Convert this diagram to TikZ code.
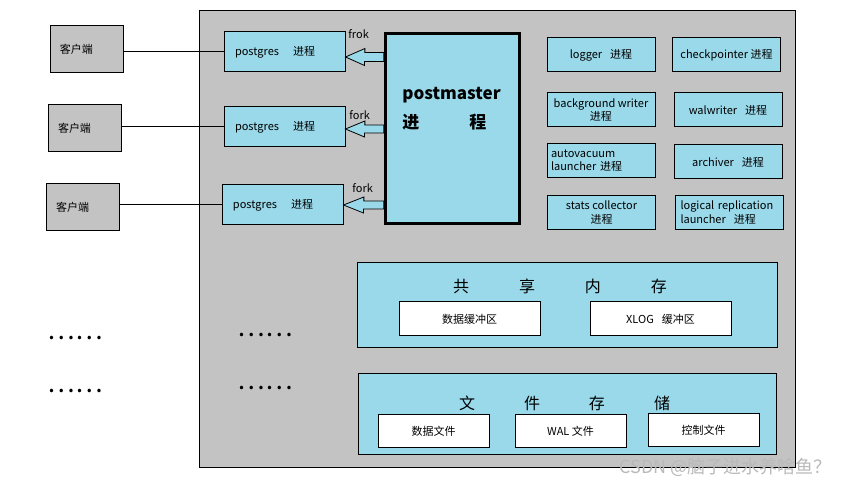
\documentclass[tikz,border=0pt]{standalone}
\usepackage{xcolor}
\usepackage{fontspec}
\setmainfont{Noto Sans CJK SC}
\usepackage{tikz}
\usetikzlibrary{positioning, calc}

\definecolor{procblue}{RGB}{153,217,234}
\definecolor{panelgray}{RGB}{195,195,195}

\begin{document}
\begin{tikzpicture}[
    x=0.5pt, y=-0.5pt,
    box/.style={draw, rectangle, line width=0.5pt, fill=procblue, minimum width=54pt, minimum height=17pt, align=center, inner sep=1pt, font=\fontsize{5.5}{6.6}\selectfont},
    client/.style={box, fill=panelgray, minimum width=36.5pt, minimum height=23.5pt, inner xsep=5pt, text width=26.5pt, align=left},
    pgbox/.style={box, minimum width=60.5pt, minimum height=20pt, inner xsep=5.5pt, text width=49.5pt, align=left},
    area/.style={box, inner sep=0pt},
    buffer/.style={box, fill=white},
    lbl/.style={inner sep=0pt, font=\fontsize{5.5}{6.6}\selectfont},
    title/.style={inner sep=0pt, font=\fontsize{8}{9}\selectfont},
    dots/.style={inner sep=0pt, font=\fontsize{13}{13}\selectfont},
    fatarrow/.style={draw, fill=procblue, line width=0.4pt},
    line/.style={draw, line width=0.5pt},
]

% Canvas
\fill[white] (0,0) rectangle (843,486);
\useasboundingbox (0,0) rectangle (843,486);

% Server
\node[area, fill=panelgray, minimum width=298pt, minimum height=228.5pt] (server) at (497,239.5) {};

% Clients
\node[client] (c1) at (86.5,49.5) {客户端};
\node[client] (c2) at (84.5,128.5) {客户端};
\node[client] (c3) at (82.5,207.5) {客户端};

% Backends
\node[pgbox] (pg1) at (284.5,52) {postgres\hspace{7pt}进程};
\node[pgbox] (pg2) at (284.5,127) {postgres\hspace{7pt}进程};
\node[pgbox] (pg3) at (282.5,205) {postgres\hspace{7pt}进程};

% Postmaster
\node[box, line width=1.65pt, minimum width=67pt, minimum height=95pt] (pm) at (452.5,128.5) {};
\node[anchor=west, inner sep=0pt, align=left, font=\fontsize{8.5}{14.5}\selectfont\bfseries] (pmtext) at (402,109) {postmaster\\进\hspace{25pt}程};

% Fork labels
\node[lbl, anchor=west] (fk1) at (348,34) {frok};
\node[lbl, anchor=west] (fk2) at (349,115) {fork};
\node[lbl, anchor=west] (fk3) at (352,188) {fork};

% Auxiliary processes
\node[box] (logger) at (601,55) {logger\hspace{4pt}进程};
\node[box] (ckpt) at (726.5,55) {checkpointer 进程};
\node[box] (bgwriter) at (601,110) {background writer\\进程};
\node[box] (walwriter) at (728,110) {walwriter\hspace{4pt}进程};
\node[box, inner xsep=2pt, text width=50pt, align=left] (autovac) at (601,161) {autovacuum\\launcher 进程};
\node[box] (archiver) at (728,162) {archiver\hspace{4pt}进程};
\node[box] (stats) at (601.5,212.5) {stats collector\\进程};
\node[box, inner xsep=2.5pt, text width=49pt, align=left] (logrep) at (729.5,212.5) {\mbox{logical replication}\\launcher\hspace{4pt}进程};

% Shared memory
\node[area, minimum width=210pt, minimum height=42.5pt] (shm) at (567,305.5) {};
\node[title] (shmtitle) at (560,286) {共\hspace{25pt}享\hspace{25pt}内\hspace{25pt}存};
\node[buffer, minimum width=70.5pt] (databuf) at (469.5,319) {数据缓冲区};
\node[buffer, minimum width=70.5pt] (xlogbuf) at (660.5,319) {XLOG\hspace{4pt}缓冲区};

% File storage
\node[area, minimum width=209pt, minimum height=40.5pt] (files) at (567,414.5) {};
\node[title] (filestitle) at (564.5,403) {文\hspace{24.5pt}件\hspace{24.5pt}存\hspace{24.5pt}储};
\node[buffer, minimum width=55.5pt, minimum height=16.5pt] (datafile) at (433.5,431.5) {数据文件};
\node[buffer, minimum width=55.5pt, minimum height=16.5pt] (walfile) at (570.5,431.5) {WAL 文件};
\node[buffer, minimum width=55.5pt, minimum height=16.5pt] (ctlfile) at (703.5,430.5) {控制文件};

% More clients and backends
\node[dots] (more1) at (75,338) {……};
\node[dots] (more2) at (75,391) {……};
\node[dots] (more3) at (265,335) {……};
\node[dots] (more4) at (265,388) {……};

% Connections
\draw[line] (c1.east |- pg1.west) -- (pg1.west);
\draw[line] (c2.east |- pg2.west) -- (pg2.west);
\draw[line] (c3.east |- pg3.west) -- (pg3.west);

% Fork arrows
\draw[fatarrow] (pm.west |- 0,52.5) -- ++(-19,0) -- ++(0,-4) -- (pg1.east |- 0,57) -- ++(19,8.5) -- ++(0,-4) -- (pm.west |- 0,61.5) -- cycle;
\draw[fatarrow] (pm.west |- 0,125) -- ++(-19,0) -- ++(0,-4) -- (pg2.east |- 0,129) -- ++(19,8) -- ++(0,-4) -- (pm.west |- 0,133) -- cycle;
\draw[fatarrow] (pm.west |- 0,201) -- ++(-20,0) -- ++(0,-4) -- (pg3.east |- 0,205) -- ++(20,8) -- ++(0,-4) -- (pm.west |- 0,209) -- cycle;

% Watermark
\node[anchor=east, inner sep=0pt, text=gray!55, font=\fontsize{9}{10}\selectfont] (watermark) at (832,467) {CSDN @脑子进水养啥鱼？};

\end{tikzpicture}
\end{document}
